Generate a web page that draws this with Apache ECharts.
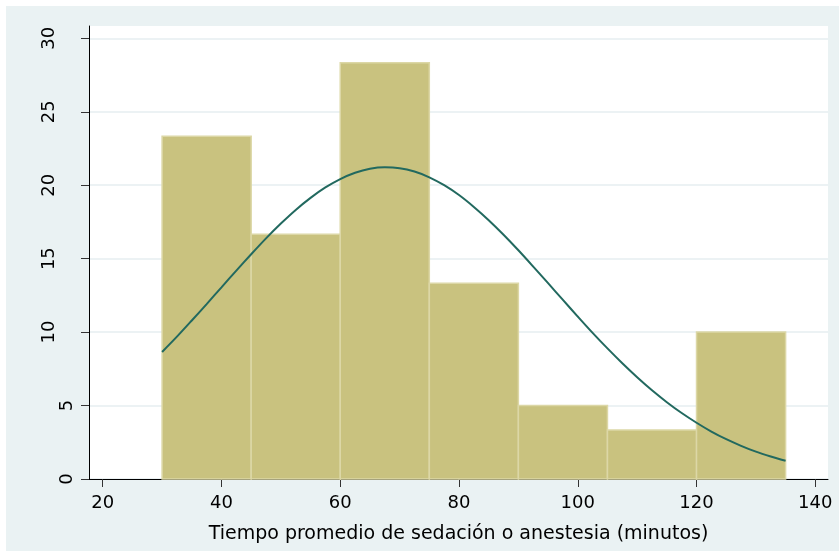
<!DOCTYPE html>
<html>
<head>
<meta charset="utf-8">
<script src="https://cdn.jsdelivr.net/npm/echarts@6/dist/echarts.min.js"></script>
<style>
html,body{margin:0;padding:0;background:#ffffff;width:839px;height:551px;overflow:hidden;}
#frame{position:absolute;left:6px;top:6px;width:833px;height:545px;background:#eaf2f3;}
#chart{width:833px;height:545px;}
</style>
</head>
<body>
<div id="frame"><div id="chart"></div></div>
<script>
// Histogram bins (minutes) and percent heights
const binStarts = [30, 45, 60, 75, 90, 105, 120];
const binWidth = 15;
const percents = [23.33, 16.67, 28.33, 13.33, 5, 3.33, 10];
// Normal density overlay
const curveX = [30, 32.5, 35, 37.5, 40, 42.5, 45, 47.5, 50, 52.5, 55, 57.5, 60, 62.5, 65, 67.5, 70, 72.5, 75, 77.5, 80, 82.5, 85, 87.5, 90, 92.5, 95, 97.5, 100, 102.5, 105, 107.5, 110, 112.5, 115, 117.5, 120, 122.5, 125, 127.5, 130, 132.5, 135];
const curveY = [8.65, 9.69, 10.79, 11.91, 13.05, 14.19, 15.30, 16.38, 17.39, 18.32, 19.14, 19.85, 20.42, 20.85, 21.12, 21.22, 21.16, 20.93, 20.54, 20.00, 19.33, 18.52, 17.62, 16.63, 15.57, 14.46, 13.33, 12.19, 11.06, 9.95, 8.89, 7.88, 6.93, 6.04, 5.23, 4.49, 3.83, 3.23, 2.71, 2.26, 1.86, 1.53, 1.24];
// Tick labels
const xTicks = [20, 40, 60, 80, 100, 120, 140];
const yTicks = [0, 5, 10, 15, 20, 25, 30];
const xTitle = 'Tiempo promedio de sedación o anestesia (minutos)';

const chart = echarts.init(document.getElementById('chart'), null, {renderer: 'canvas'});

const barData = binStarts.map((s, i) => [s, s + binWidth, percents[i]]);
const lineData = curveX.map((x, i) => [x, curveY[i]]);

const font = 'DejaVu Sans';

chart.setOption({
  animation: false,
  backgroundColor: 'transparent',
  grid: {
    left: 83, top: 20, right: 11, bottom: 72,
    show: true, backgroundColor: '#ffffff', borderWidth: 0,
    containLabel: false
  },
  xAxis: {
    type: 'value',
    min: 17.69, max: 142.14,
    axisLine: {show: true, lineStyle: {color: '#000000', width: 1}},
    axisTick: {show: true, length: 8, customValues: xTicks, lineStyle: {color: '#333333', width: 1}},
    axisLabel: {
      customValues: xTicks, margin: 15,
      fontFamily: font, fontSize: 18, color: '#000000'
    },
    splitLine: {show: false},
    name: xTitle,
    nameLocation: 'middle',
    nameGap: 46,
    nameTextStyle: {fontFamily: font, fontSize: 19, color: '#000000'}
  },
  yAxis: {
    type: 'value',
    min: 0, max: 30.84, interval: 5,
    axisLine: {show: true, lineStyle: {color: '#000000', width: 1}},
    axisTick: {show: true, length: 8, customValues: yTicks, lineStyle: {color: '#333333', width: 1}},
    axisLabel: {
      customValues: yTicks,
      rotate: 90, margin: 13,
      fontFamily: font, fontSize: 18, color: '#000000',
      formatter: function (v) {
        const s = String(v);
        return s.length > 1 ? '{w|' + s + '}' : '{n|' + s + '}';
      },
      rich: {
        n: {fontFamily: font, fontSize: 18, color: '#000000'},
        w: {fontFamily: font, fontSize: 18, color: '#000000', padding: [0, 0, 18, 0]}
      }
    },
    splitLine: {show: true, lineStyle: {color: '#e6eef1', width: 1.5}}
  },
  series: [
    {
      type: 'custom',
      data: barData,
      encode: {x: [0, 1], y: 2},
      renderItem: function (params, api) {
        const p0 = api.coord([api.value(0), api.value(2)]);
        const p1 = api.coord([api.value(1), 0]);
        return {
          type: 'rect',
          shape: {x: p0[0], y: p0[1], width: p1[0] - p0[0], height: p1[1] - p0[1]},
          style: {fill: '#c9c27f', stroke: '#dcd7a6', lineWidth: 1.5}
        };
      },
      z: 2
    },
    {
      type: 'line',
      data: lineData,
      smooth: 0.3,
      symbol: 'none',
      lineStyle: {color: '#22695f', width: 2},
      z: 3
    }
  ]
});
</script>
</body>
</html>
